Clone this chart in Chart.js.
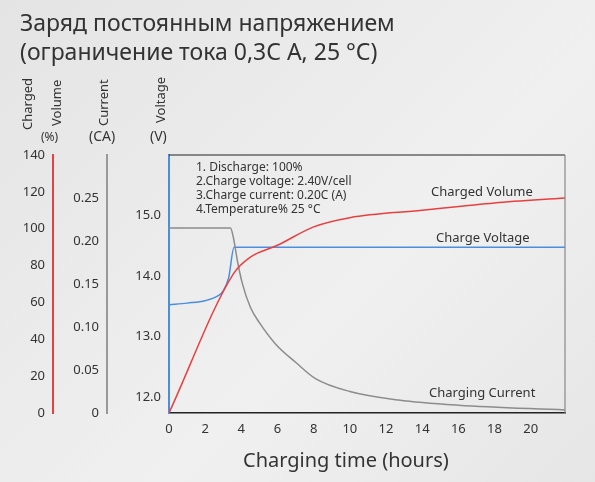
<!DOCTYPE html>
<html><head><meta charset="utf-8">
<script src="https://cdn.jsdelivr.net/npm/chart.js@4"></script>
<style>
body{margin:0;background:#ebebeb;font-family:"Noto Sans",sans-serif;color:#333;}
#wrap{position:relative;width:595px;height:482px;overflow:hidden;background:linear-gradient(135deg,#e4e4e4,#f0f0f0 60%,#e6e6e6);}
canvas{position:absolute;left:0;top:0;}
.t{position:absolute;white-space:nowrap;}
.v{position:absolute;white-space:nowrap;transform:rotate(-90deg);transform-origin:left top;font-size:13px;}
</style></head><body>
<div id="wrap">
<canvas id="c" width="595" height="482"></canvas>
<div class="t" style="left:20px;top:8px;font-size:23px;line-height:29px;">Заряд постоянным напряжением<br>(ограничение тока 0,3С А, 25 °С)</div>
<div class="v" style="left:18px;top:130px;">Charged</div>
<div class="v" style="left:47px;top:126px;">Volume</div>
<div class="t" style="left:41px;top:128px;font-size:12px;">(%)</div>
<div class="v" style="left:94px;top:126px;">Current</div>
<div class="t" style="left:89px;top:126px;font-size:14px;">(CA)</div>
<div class="v" style="left:151px;top:123px;">Voltage</div>
<div class="t" style="left:150px;top:126px;font-size:14px;">(V)</div>
<div class="t" style="left:196px;top:160px;font-size:12px;line-height:14px;">1. Discharge: 100%<br>2.Charge voltage: 2.40V/cell<br>3.Charge current: 0.20C (A)<br>4.Temperature% 25 °C</div>
<div class="t" style="left:431px;top:182px;font-size:13px;">Charged Volume</div>
<div class="t" style="left:436px;top:228px;font-size:13px;">Charge Voltage</div>
<div class="t" style="left:429px;top:383px;font-size:13px;">Charging Current</div>
<div class="t" style="left:243px;top:446px;font-size:20px;">Charging time (hours)</div>
</div>
<script>
const volumeX=[0,3.55,4.5,6,8,10,14,18,21.9];
const volumeY=[0,75.4,84.6,91,101,106,110,114,116.7];
const currentX=[0,3.4,3.55,3.8,4.05,4.5,5,5.9,7,8.1,10,12.7,16,21.9];
const currentY=[0.215,0.215,0.205,0.175,0.151,0.123,0.105,0.080,0.059,0.040,0.025,0.015,0.009,0.0035];
const voltageX=[0,1,2,2.7,3,3.3,3.6,21.9];
const voltageY=[13.52,13.55,13.59,13.67,13.75,13.97,14.47,14.47];
const volTicks=[0,20,40,60,80,100,120,140];
const curTicks=[0,0.05,0.10,0.15,0.20,0.25];
const vTicks=[12,13,14,15];
const xTicks=[0,2,4,6,8,10,12,14,16,18,20];
const pts=(xs,ys)=>xs.map((x,i)=>({x,y:ys[i]}));
const F='"Noto Sans",sans-serif';
const frame={id:'frame',afterDraw(c){const a=c.chartArea,g=c.ctx;g.save();g.strokeStyle='#222';g.lineWidth=1.2;g.beginPath();g.moveTo(a.left,a.top);g.lineTo(a.right,a.top);g.stroke();g.strokeStyle='#888';g.beginPath();g.moveTo(a.right,a.top);g.lineTo(a.right,a.bottom);g.stroke();g.restore();}};
function ax(color,min,max,list,fmt,w){return{type:'linear',position:'left',min,max,
 afterBuildTicks:s=>{s.ticks=list.map(v=>({value:v}));},
 afterFit:s=>{s.width=w;},
 grid:{display:false,drawOnChartArea:false,tickLength:5,tickColor:color},
 border:{color,width:2},
 ticks:{color:'#333',font:{family:F,size:13},padding:3,callback:fmt}};}
new Chart(document.getElementById('c'),{type:'line',
 data:{datasets:[
  {data:pts(volumeX,volumeY),yAxisID:'yv',borderColor:'#e8403f',borderWidth:1.5,pointRadius:0,cubicInterpolationMode:'monotone'},
  {data:pts(currentX,currentY),yAxisID:'yc',borderColor:'#8c8c8c',borderWidth:1.5,pointRadius:0,cubicInterpolationMode:'monotone'},
  {data:pts(voltageX,voltageY),yAxisID:'yu',borderColor:'#4a8ee0',borderWidth:1.5,pointRadius:0,cubicInterpolationMode:'monotone'}]},
 options:{responsive:false,animation:false,
  layout:{padding:{top:155,right:30,left:0,bottom:0}},
  plugins:{legend:{display:false},tooltip:{enabled:false}},
  scales:{
   x:{type:'linear',min:0,max:21.9,afterBuildTicks:s=>{s.ticks=xTicks.map(v=>({value:v}));},afterFit:s=>{s.height=69;},
      grid:{display:false},border:{color:'#222',width:1.5},ticks:{color:'#333',font:{family:F,size:13},padding:0}},
   yu:ax('#4a8ee0',11.74,15.99,vTicks,v=>v.toFixed(1),62),
   yc:ax('#999',0,0.30,curTicks,v=>v===0?'0':v.toFixed(2),54),
   yv:ax('#e8403f',0,140,volTicks,v=>v,53)
  }}, plugins:[frame]});
</script></body></html>
